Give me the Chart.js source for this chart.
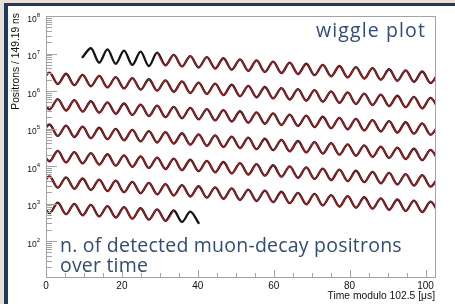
<!DOCTYPE html>
<html lang="en">
<head>
<meta charset="UTF-8">
<title>Wiggle plot</title>
<script src="https://cdn.jsdelivr.net/npm/chart.js"></script>
<style>
  html, body { margin: 0; padding: 0; }
  body { width: 455px; height: 304px; overflow: hidden; background: #e8e0d4; position: relative; }
  #panel { position: absolute; left: 4px; top: 3px; right: 0; bottom: 0; background: #fff;
           border-left: 4px solid #1e3a60; border-top: 3px solid #1e3a60; }
  #plot { position: absolute; left: 0; top: 0; }
</style>
</head>
<body>
<div id="panel"></div>
<canvas id="plot" width="455" height="304"></canvas>
<script>
// time modulo 102.5 us of the turning points (peaks / troughs) of the wiggle
const rowPeriod = 102.5;
const rowTimes = [-1.26, 0.92, 3.10, 5.29, 7.47, 9.65, 11.83, 14.02, 16.20, 18.38, 20.56, 22.75, 24.93, 27.11,
  29.29, 31.48, 33.66, 35.84, 38.02, 40.21, 42.39, 44.57, 46.75, 48.94, 51.12, 53.30, 55.48, 57.67, 59.85,
  62.03, 64.21, 66.40, 68.58, 70.76, 72.94, 75.13, 77.31, 79.49, 81.67, 83.86, 86.04, 88.22, 90.40, 92.59,
  94.77, 96.95, 99.13, 101.32, 103.50];

// positrons / 149.19 ns at those points, one array per row (row 1 = first 102.5 us)
const row1 = [null, null, null, null, null, 8.0e6, 1.38e7, 5.7e6, 1.29e7, 5.31e6, 1.20e7, 4.96e6, 1.12e7, 4.64e6,
  1.05e7, 4.86e6, 9.16e6, 4.54e6, 8.56e6, 4.24e6, 8.00e6, 3.97e6, 7.48e6, 3.71e6, 6.99e6, 3.46e6, 6.53e6,
  3.24e6, 6.10e6, 3.02e6, 5.70e6, 2.83e6, 5.33e6, 2.64e6, 4.98e6, 2.47e6, 4.65e6, 2.31e6, 4.35e6, 2.15e6,
  4.06e6, 2.01e6, 3.80e6, 1.88e6, 3.55e6, 1.76e6, 3.31e6, 1.64e6, 3.10e6];
const row2 = [1.64e6, 3.10e6, 1.54e6, 2.89e6, 1.43e6, 2.70e6, 1.34e6, 2.53e6, 1.25e6, 2.36e6, 1.17e6, 2.21e6,
  1.09e6, 2.06e6, 1.02e6, 1.93e6, 9.55e5, 1.80e6, 8.93e5, 1.68e6, 8.34e5, 1.57e6, 7.80e5, 1.47e6, 7.28e5,
  1.37e6, 6.81e5, 1.28e6, 6.36e5, 1.20e6, 5.94e5, 1.12e6, 5.55e5, 1.05e6, 5.19e5, 9.79e5, 4.86e5, 9.16e5,
  4.54e5, 8.56e5, 4.24e5, 8.00e5, 3.97e5, 7.48e5, 3.71e5, 6.99e5, 3.46e5, 6.53e5, 3.24e5];
const row3 = [6.53e5, 3.24e5, 6.10e5, 3.02e5, 5.70e5, 2.83e5, 5.33e5, 2.64e5, 4.98e5, 2.47e5, 4.65e5, 2.31e5,
  4.35e5, 2.15e5, 4.06e5, 2.01e5, 3.80e5, 1.88e5, 3.55e5, 1.76e5, 3.31e5, 1.64e5, 3.10e5, 1.54e5, 2.89e5,
  1.43e5, 2.70e5, 1.34e5, 2.53e5, 1.25e5, 2.36e5, 1.17e5, 2.21e5, 1.09e5, 2.06e5, 1.02e5, 1.93e5, 9.55e4,
  1.80e5, 8.93e4, 1.68e5, 8.34e4, 1.57e5, 7.80e4, 1.47e5, 7.28e4, 1.37e5, 6.81e4, 1.28e5];
const row4 = [6.81e4, 1.28e5, 6.36e4, 1.20e5, 5.94e4, 1.12e5, 5.55e4, 1.05e5, 5.19e4, 9.79e4, 4.86e4, 9.16e4,
  4.54e4, 8.56e4, 4.24e4, 8.00e4, 3.97e4, 7.48e4, 3.71e4, 6.99e4, 3.46e4, 6.53e4, 3.24e4, 6.10e4, 3.02e4,
  5.70e4, 2.83e4, 5.33e4, 2.64e4, 4.98e4, 2.47e4, 4.65e4, 2.31e4, 4.35e4, 2.15e4, 4.06e4, 2.01e4, 3.80e4,
  1.88e4, 3.55e4, 1.76e4, 3.31e4, 1.64e4, 3.10e4, 1.54e4, 2.89e4, 1.43e4, 2.70e4, 1.34e4];
const row5 = [2.70e4, 1.34e4, 2.53e4, 1.25e4, 2.36e4, 1.17e4, 2.21e4, 1.09e4, 2.06e4, 1.02e4, 1.93e4, 9.55e3,
  1.80e4, 8.93e3, 1.68e4, 8.34e3, 1.57e4, 7.80e3, 1.47e4, 7.28e3, 1.37e4, 6.81e3, 1.28e4, 6.36e3, 1.20e4,
  5.94e3, 1.12e4, 5.55e3, 1.05e4, 5.19e3, 9.79e3, 4.86e3, 9.16e3, 4.54e3, 8.56e3, 4.24e3, 8.00e3, 3.97e3,
  7.48e3, 3.71e3, 6.99e3, 3.46e3, 6.53e3, 3.24e3, 6.10e3, 3.02e3, 5.70e3, 2.83e3, 5.33e3];
const row6 = [2.83e3, 5.33e3, 2.64e3, 4.98e3, 2.47e3, 4.65e3, 2.31e3, 4.35e3, 2.15e3, 4.06e3, 2.01e3, 3.80e3,
  1.88e3, 3.55e3, 1.76e3, 3.31e3, 1.64e3, 3.10e3, 1.54e3, 2.89e3, 1.43e3, 2.70e3, 1.34e3, 2.53e3, 1.25e3,
  2.36e3, 1.17e3, 2.21e3, 1.09e3, 2.06e3, 1.02e3, 1.93e3, 955, 1.80e3, 893, 1.68e3, 834, 1.57e3, 780,
  1.47e3, 728, 1.37e3, 681, 1.28e3, 636, 1.20e3, 594, 1.12e3, 555];
const row7 = [1.12e3, 555, 1.05e3, 519, 979, 486, 916, 454, 856, 424, 800, 397, 748, 371, 699, 346, 653, 324,
  610, 302, null, null, null, null, null, null, null, null, null, null, null, null, null, null, null, null,
  null, null, null, null, null, null, null, null, null, null, null, null, null];

// fit window in time since injection [us]
const fitStart = 29, fitEnd = 650;

const xLabels = [0, 20, 40, 60, 80, 100];
const yDecades = [2, 3, 4, 5, 6, 7, 8];
const yMin = 11, yMax = 1e8;

const rows = [row1, row2, row3, row4, row5, row6, row7];
const datasets = [];
rows.forEach((vals, k) => {
  const pts = rowTimes.map((t, j) => ({ x: t, y: vals[j] }));
  const fit = pts.map(p => {
    const T = p.x + k * rowPeriod;
    return { x: p.x, y: (T >= fitStart && T <= fitEnd) ? p.y : null };
  });
  datasets.push({ data: pts, borderColor: '#141414', borderWidth: 2.3, order: 2, clip: 0 });
  datasets.push({ data: fit, borderColor: '#c4161c', borderWidth: 1.2, order: 1, clip: 0 });
});

// draw a note stretched to the width it has on the slide
function note(ctx, text, x, y, width, align) {
  ctx.letterSpacing = '0px';
  const w = ctx.measureText(text).width;
  ctx.letterSpacing = ((width - w) / text.length).toFixed(2) + 'px';
  ctx.textAlign = 'left';
  ctx.fillText(text, align === 'right' ? x - width : x, y);
  ctx.letterSpacing = '0px';
}

// ROOT-like frame, inward ticks, labels and notes
const rootFrame = {
  id: 'rootFrame',
  afterDraw(chart) {
    const { ctx, chartArea: a, scales: { x, y } } = chart;
    ctx.save();
    ctx.strokeStyle = '#a3a3a3';
    ctx.lineWidth = 1;
    ctx.strokeRect(Math.round(a.left) + 0.5, Math.round(a.top) + 0.5,
      Math.round(a.right - a.left), Math.round(a.bottom - a.top));

    ctx.beginPath();
    for (let e = 1; e <= 8; e++) {
      for (let m = 1; m <= 9; m++) {
        const v = m * Math.pow(10, e);
        if (v < yMin || v > yMax) continue;
        const py = Math.round(y.getPixelForValue(v)) + 0.5;
        ctx.moveTo(a.left, py);
        ctx.lineTo(a.left + (m === 1 ? 11 : 6), py);
      }
    }
    for (let t = 0; t <= 100; t += 5) {
      const px = Math.round(x.getPixelForValue(t)) + 0.5;
      ctx.moveTo(px, a.bottom);
      ctx.lineTo(px, a.bottom - (t % 20 === 0 ? 7 : 4));
    }
    ctx.stroke();

    ctx.fillStyle = '#111';
    ctx.textBaseline = 'alphabetic';
    yDecades.forEach(e => {
      const py = y.getPixelForValue(Math.pow(10, e));
      ctx.font = '6px "Liberation Sans", Arial, sans-serif';
      ctx.textAlign = 'right';
      ctx.fillText(String(e), 40, py + 0.8);
      const w = ctx.measureText(String(e)).width;
      ctx.font = '8.5px "Liberation Sans", Arial, sans-serif';
      ctx.fillText('10', 40 - w, py + 5.8);
    });

    ctx.font = '10px "Liberation Sans", Arial, sans-serif';
    ctx.textAlign = 'center';
    xLabels.forEach(t => ctx.fillText(String(t), x.getPixelForValue(t), 288.5));

    ctx.textAlign = 'right';
    ctx.font = '10.3px "Liberation Sans", Arial, sans-serif';
    ctx.fillText('Time modulo 102.5 [\u03bcs]', a.right, 298.5);

    ctx.save();
    ctx.translate(18.5, 13);
    ctx.rotate(-Math.PI / 2);
    ctx.textAlign = 'right';
    ctx.fillText('Positrons / 149.19 ns', 0, 0);
    ctx.restore();

    ctx.fillStyle = '#2f4c7a';
    ctx.font = '19.5px "Open Sans", sans-serif';
    note(ctx, 'wiggle plot', 426, 37, 110, 'right');
    note(ctx, 'n. of detected muon-decay positrons', 60, 251.7, 342, 'left');
    note(ctx, 'over time', 60, 271.7, 88, 'left');
    ctx.restore();
  }
};

new Chart(document.getElementById('plot'), {
  type: 'line',
  data: { datasets },
  options: {
    responsive: false,
    animation: false,
    events: [],
    layout: { padding: { left: 46, top: 16, right: 20, bottom: 27 } },
    elements: {
      point: { radius: 0 },
      line: { cubicInterpolationMode: 'monotone', borderCapStyle: 'round', borderJoinStyle: 'round' }
    },
    plugins: { legend: { display: false }, tooltip: { enabled: false } },
    scales: {
      x: { type: 'linear', min: 0, max: rowPeriod, display: false },
      y: { type: 'logarithmic', min: yMin, max: yMax, display: false }
    }
  },
  plugins: [rootFrame]
});
</script>
</body>
</html>
